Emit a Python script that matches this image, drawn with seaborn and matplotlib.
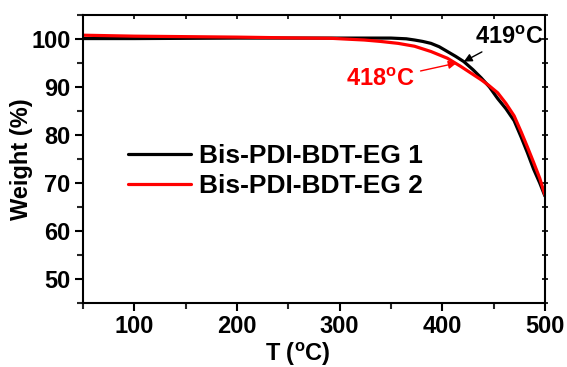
import matplotlib
matplotlib.use("Agg")
import matplotlib.pyplot as plt
import seaborn as sns
import pandas as pd

# Data
temp1 = [50, 100, 200, 300, 350, 365, 373, 381, 389, 397, 405, 413, 421, 430, 438,
         446, 454, 462, 470, 477, 483, 489, 495, 500]
weight1 = [100.1, 100.1, 100.2, 100.2, 100.2, 100.05, 99.8, 99.5, 99.1, 98.4, 97.4,
           96.4, 95.3, 93.6, 91.9, 90.0, 87.6, 85.5, 83.0, 79.5, 76.3, 72.9, 70.0, 67.3]
temp2 = [50, 100, 150, 200, 250, 292, 310, 324, 340, 357, 373, 389, 405, 418, 428,
         438, 445, 454, 462, 470, 477, 483, 489, 495, 500]
weight2 = [100.8, 100.6, 100.5, 100.4, 100.25, 100.15, 99.95, 99.8, 99.5, 99.1, 98.5,
           97.4, 96.0, 94.3, 92.9, 91.5, 90.4, 88.8, 86.6, 84.0, 80.6, 77.5, 74.3,
           71.0, 67.5]
series_names = ["Bis-PDI-BDT-EG 1", "Bis-PDI-BDT-EG 2"]
x_ticks = [100, 200, 300, 400, 500]
y_ticks = [50, 60, 70, 80, 90, 100]

df = pd.concat([
    pd.DataFrame({"T": temp1, "W": weight1, "s": series_names[0]}),
    pd.DataFrame({"T": temp2, "W": weight2, "s": series_names[1]}),
])

sns.set_theme(style="ticks")
plt.rcParams["font.family"] = ["Liberation Sans", "DejaVu Sans"]
plt.rcParams["font.weight"] = "bold"
plt.rcParams["text.color"] = "black"
plt.rcParams["axes.labelcolor"] = "black"
plt.rcParams["mathtext.fontset"] = "custom"
plt.rcParams["mathtext.rm"] = "Liberation Sans:bold"
plt.rcParams["mathtext.bf"] = "Liberation Sans:bold"
plt.rcParams["mathtext.default"] = "regular"

fig = plt.figure(figsize=(5.67, 3.67), dpi=100)
ax = fig.add_axes([0.1464, 0.1744, 0.8146, 0.7846])

sns.lineplot(data=df, x="T", y="W", hue="s", palette=["black", "#ff0000"],
             linewidth=2.3, ax=ax, sort=False)

ax.set_xlim(50, 500)
ax.set_ylim(45, 105)
ax.set_xticks(x_ticks)
ax.set_yticks(y_ticks)
ax.set_xticks([50 + 50 * i for i in range(10)], minor=True)
ax.set_yticks([45 + 5 * i for i in range(13)], minor=True)
for sp in ax.spines.values():
    sp.set_visible(True)
    sp.set_linewidth(1.5)
    sp.set_color("black")
ax.tick_params(axis="both", which="major", direction="out", length=6, width=1.5,
               labelsize=17, colors="black", pad=3)
ax.tick_params(axis="both", which="minor", direction="out", length=4, width=1.5)
for lab in ax.get_xticklabels() + ax.get_yticklabels():
    lab.set_fontweight("bold")

# top and right ticks
top = ax.secondary_xaxis("top")
top.set_xticks(x_ticks, labels=[])
top.set_xticks([50 + 50 * i for i in range(10)], minor=True)
top.tick_params(which="both", direction="in", length=3, width=1.2, colors="black")
right = ax.secondary_yaxis("right")
right.set_yticks(y_ticks, labels=[])
right.set_yticks([45 + 5 * i for i in range(13)], minor=True)
right.tick_params(which="both", direction="inout", length=4, width=1.2, colors="black")

ax.set_xlabel(r"T ($^{o}$C)", fontsize=17, fontweight="bold", labelpad=1)
ax.xaxis.set_label_coords(0.465, -0.13)
ax.set_ylabel("Weight (%)", fontsize=17, fontweight="bold")
ax.yaxis.set_label_coords(-0.108, 0.5)

leg = ax.legend(loc="upper left", bbox_to_anchor=(0.045, 0.635), frameon=False,
                handlelength=2.4, handletextpad=0.3, labelspacing=0.25,
                prop={"weight": "bold", "size": 19}, labelcolor="black")

ax.annotate(r"419$^{o}$C", xy=(421, 95.3), xytext=(432, 100.4), fontsize=17,
            fontweight="bold", color="black", va="center", ha="left",
            arrowprops=dict(arrowstyle="-|>", color="black", lw=1, mutation_scale=12,
                            shrinkA=0, shrinkB=0))
ax.annotate(r"418$^{o}$C", xy=(414, 95.0), xytext=(306, 91.5), fontsize=17,
            fontweight="bold", color="#ff0000", va="center", ha="left",
            arrowprops=dict(arrowstyle="-|>", color="#ff0000", lw=1, mutation_scale=12,
                            shrinkA=2, shrinkB=0))

fig.savefig("out.png", dpi=100)
